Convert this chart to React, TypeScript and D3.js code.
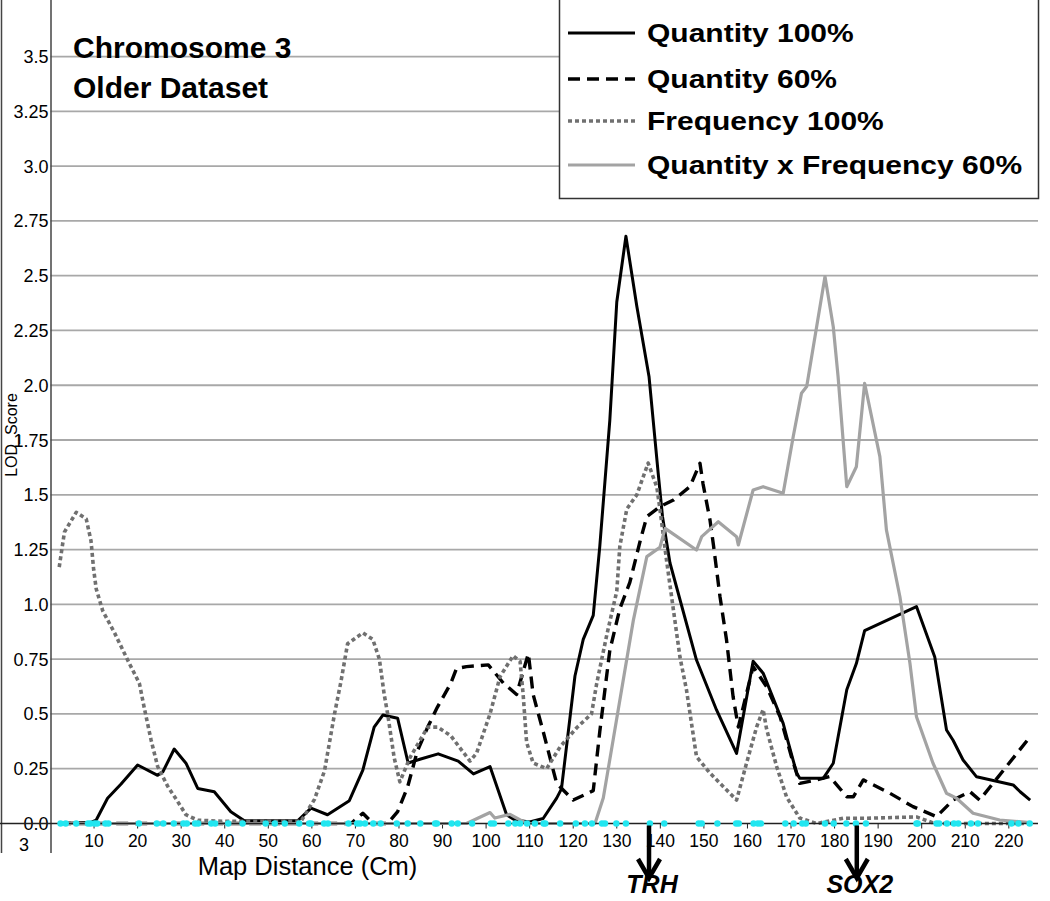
import React from "react";
import * as d3 from "d3";

// ---------- data ----------
const yTickValues = [0, 0.25, 0.5, 0.75, 1.0, 1.25, 1.5, 1.75, 2.0, 2.25, 2.5, 2.75, 3.0, 3.25, 3.5];
const yTickLabels = ["0.0", "0.25", "0.5", "0.75", "1.0", "1.25", "1.5", "1.75", "2.0", "2.25", "2.5", "2.75", "3.0", "3.25", "3.5"];
const xTickValues = [10, 20, 30, 40, 50, 60, 70, 80, 90, 100, 110, 120, 130, 140, 150, 160, 170, 180, 190, 200, 210, 220];

const quantity100: [number, number][] = [
  [2, 0], [9.3, 0.005], [10.5, 0.016], [13.1, 0.115], [16.2, 0.18], [20, 0.267], [24.6, 0.22], [25.8, 0.236],
  [28.4, 0.34], [31.1, 0.275], [33.8, 0.16], [37.6, 0.145], [41.4, 0.054], [44.5, 0.013], [56.8, 0.013],
  [59.8, 0.07], [63.6, 0.04], [68.6, 0.104], [71.7, 0.244], [74.3, 0.44], [76.3, 0.495], [79.7, 0.48],
  [82.1, 0.276], [84.8, 0.293], [89, 0.318], [93.6, 0.285], [97.1, 0.226], [100.9, 0.26], [104.7, 0.04],
  [106.6, 0.016], [110, 0.007], [113.1, 0.023], [116.2, 0.116], [117.3, 0.158], [120.4, 0.673], [122.3, 0.84],
  [124.6, 0.95], [126.1, 1.265], [128.4, 1.84], [130, 2.38], [132.1, 2.68], [134.6, 2.36], [137.4, 2.04],
  [139.5, 1.6], [140.5, 1.4], [142.2, 1.19], [148.3, 0.746], [152.9, 0.518], [157.5, 0.32], [161.3, 0.74],
  [163.6, 0.686], [168.2, 0.457], [169, 0.396], [171.3, 0.23], [172, 0.206], [177.4, 0.206], [179.7, 0.275],
  [182.8, 0.61], [185, 0.73], [186.9, 0.88], [198.8, 0.99], [203, 0.76], [205.7, 0.427], [207.2, 0.38],
  [209.5, 0.29], [212.6, 0.213], [221, 0.176], [222.6, 0.145], [224.9, 0.107],
];

const quantity60: [number, number][] = [
  [2, 0], [69, 0.0], [71.7, 0.047], [74, 0.0], [77.4, 0.0], [79.7, 0.054], [82, 0.168], [84.2, 0.33],
  [86.6, 0.44], [88.8, 0.53], [91.9, 0.64], [93.2, 0.707], [95.5, 0.716], [100.5, 0.724], [104, 0.64],
  [107, 0.589], [109.7, 0.775], [110.8, 0.589], [113.1, 0.42], [116.2, 0.183], [120, 0.107], [124.6, 0.15],
  [126.1, 0.42], [128.4, 0.79], [130.7, 0.98], [133, 1.1], [135.5, 1.3], [136.9, 1.4], [139.9, 1.446],
  [143, 1.476], [146.8, 1.537], [149.1, 1.644], [149.8, 1.55], [151.4, 1.385], [152.2, 1.27], [153.7, 1.035],
  [155.2, 0.837], [156.7, 0.579], [157.9, 0.44], [161.3, 0.716], [164.4, 0.624], [167.5, 0.487],
  [170.1, 0.305], [172, 0.183], [175.9, 0.199], [178.9, 0.214], [182.8, 0.122], [184.3, 0.122],
  [186.6, 0.199], [192.7, 0.138], [198, 0.077], [203.4, 0.031], [207.2, 0.107], [211.1, 0.145],
  [213.3, 0.107], [224.9, 0.396],
];

const frequency100: [number, number][] = [
  [2, 1.17], [3.2, 1.33], [5.9, 1.42], [8.2, 1.39], [9.3, 1.29], [9.9, 1.16], [10.5, 1.07], [12, 0.97],
  [14.7, 0.87], [18.1, 0.73], [20.4, 0.64], [21.5, 0.53], [23.1, 0.38], [24.6, 0.26], [26.9, 0.17],
  [29.2, 0.1], [31.1, 0.04], [33.8, 0.015], [40, 0.01], [57.5, 0.01], [60.6, 0.11], [62.9, 0.24],
  [65.2, 0.5], [66.7, 0.65], [68.2, 0.82], [71.7, 0.87], [74, 0.84], [75.5, 0.75], [76.6, 0.59],
  [77.4, 0.5], [78.9, 0.3], [80.2, 0.19], [82.5, 0.3], [86.6, 0.44], [88.9, 0.44], [91.9, 0.4],
  [96.3, 0.285], [97.8, 0.32], [100.9, 0.5], [103.2, 0.67], [106.2, 0.766], [107.8, 0.74], [108.5, 0.59],
  [109.3, 0.37], [110.8, 0.276], [113.9, 0.25], [117, 0.35], [120.8, 0.437], [124.2, 0.5], [125.4, 0.64],
  [127.7, 0.86], [130, 1.06], [130.7, 1.265], [132.3, 1.435], [134.6, 1.5], [137.2, 1.645], [139.2, 1.535],
  [139.9, 1.435], [141.5, 1.19], [144.5, 0.76], [146, 0.61], [148.3, 0.305], [151.4, 0.23], [157.5, 0.107],
  [159.8, 0.276], [162.1, 0.44], [163.6, 0.52], [164.4, 0.43], [166.7, 0.26], [169, 0.12], [172, 0.025],
  [175.9, 0], [182, 0.024], [187.4, 0.024], [198.8, 0.03], [203, 0], [224.9, 0],
];

const quantityXFrequency60: [number, number][] = [
  [2, 0], [95.5, 0], [100.9, 0.05], [102, 0.025], [105.5, 0.042], [109.3, 0], [125, 0], [126.9, 0.116],
  [129.2, 0.386], [133.8, 0.927], [136.9, 1.218], [139.9, 1.26], [141.1, 1.347], [148.3, 1.248],
  [149.5, 1.309], [153.3, 1.377], [157.5, 1.309], [157.9, 1.271], [161.3, 1.522], [163.6, 1.537],
  [168.2, 1.507], [170.5, 1.765], [172.4, 1.963], [173.6, 1.994], [177.8, 2.496], [179.7, 2.267],
  [180.8, 2.04], [182.8, 1.537], [185, 1.628], [186.9, 2.009], [190.4, 1.674], [191.9, 1.34], [195, 1.035],
  [197.3, 0.731], [198.8, 0.487], [202.6, 0.275], [205.7, 0.138], [208, 0.115], [211.8, 0.047],
  [217.9, 0.016], [224.9, 0.004],
];

const markerPositions = [
  2.3, 3.5, 5.9, 8.6, 9.2, 10.1, 10.7, 12.6, 13.3, 20.3, 24.4, 25.9, 28.3, 30.5, 31.3, 33.2, 33.9, 36.9,
  37.8, 40.8, 44.1, 49.4, 51.5, 53.8, 57.1, 59.4, 59.8, 62.8, 63.7, 68.4, 70.4, 71.1, 72.2, 74.1, 75.8,
  79.5, 82, 84.9, 88.3, 88.7, 92.1, 93.5, 96.8, 101.1, 101.8, 105.1, 106.7, 107.8, 109.4, 111.2, 113.2,
  113.6, 117, 120.6, 122.7, 124.3, 126.6, 127.3, 129.9, 132.1, 137.6, 140.9, 148.8, 149.5, 153.1, 157.4,
  158, 161.4, 162.4, 163.1, 168.7, 170.6, 172.6, 173.4, 177.8, 179.8, 182.7, 184.9, 187.2, 198.8, 199.1,
  203.4, 204, 205.8, 207.4, 208.4, 211.3, 212.9, 220.6, 222.2, 224.8,
];

const genes = [
  { name: "TRH", pos: 137.4 },
  { name: "SOX2", pos: 185.1 },
];

const seriesNames = ["Quantity 100%", "Quantity 60%", "Frequency 100%", "Quantity x Frequency 60%"];

// ---------- layout ----------
const W = 1050;
const H = 901;
const FONT = "Arial, 'Liberation Sans', Helvetica, sans-serif";

const x = d3.scaleLinear().domain([0, 226.7]).range([50.5, 1038]);
const y = d3.scaleLinear().domain([0, 3.758]).range([823.5, 0]);

const styles = [
  { stroke: "#000000", width: 3, dash: undefined as string | undefined },
  { stroke: "#000000", width: 3.4, dash: "12 7" },
  { stroke: "#707070", width: 3.6, dash: "4 3" },
  { stroke: "#a3a3a3", width: 3.2, dash: undefined as string | undefined },
];
const seriesData = [quantity100, quantity60, frequency100, quantityXFrequency60];

const lineGen = d3
  .line<[number, number]>()
  .x((d) => x(d[0]))
  .y((d) => y(d[1]));

export default function App() {
  const y0 = y(0);
  return (
    <svg
      width={W}
      height={H}
      viewBox={`0 0 ${W} ${H}`}
      style={{ position: "absolute", left: 0, top: 0, background: "#fff" }}
      fontFamily={FONT}
    >
      <rect x={0} y={0} width={W} height={H} fill="#fff" />
      {/* gridlines */}
      {yTickValues.filter((t) => t > 0).map((t) => (
        <line key={t} x1={x(0)} x2={1038} y1={y(t)} y2={y(t)} stroke="#a8a8a8" strokeWidth={1.8} />
      ))}
      {/* frame lines */}
      <line x1={1.5} x2={1.5} y1={0} y2={853} stroke="#444" strokeWidth={1.5} />
      <line x1={51} x2={51} y1={0} y2={853} stroke="#444" strokeWidth={1.5} />
      {/* y tick labels */}
      {yTickValues.map((t, i) => (
        <text key={t} x={48.5} y={y(t) + 6.5} textAnchor="end" fontSize={18} fill="#000">
          {yTickLabels[i]}
        </text>
      ))}
      {/* x ticks and labels */}
      {xTickValues.map((t) => (
        <g key={t}>
          <line x1={x(t)} x2={x(t)} y1={y0} y2={y0 + 5} stroke="#222" strokeWidth={1} />
          <text x={x(t)} y={846.5} textAnchor="middle" fontSize={17.5} fill="#000">
            {t}
          </text>
        </g>
      ))}
      <text x={24} y={851} textAnchor="middle" fontSize={18}>3</text>
      <text x={307.5} y={875} textAnchor="middle" fontSize={25.5}>Map Distance (Cm)</text>
      <text transform={`translate(17,435) rotate(-90)`} textAnchor="middle" fontSize={16}>LOD_Score</text>

      {/* series */}
      {seriesData.map((data, i) => (
        <path
          key={seriesNames[i]}
          d={lineGen(data) as string}
          fill="none"
          stroke={styles[i].stroke}
          strokeWidth={styles[i].width}
          strokeDasharray={styles[i].dash}
          strokeLinejoin="round"
        />
      ))}
      {/* x axis line */}
      <line x1={0} x2={1038} y1={y0} y2={y0} stroke="#222" strokeWidth={1.5} />
      {/* markers */}
      {markerPositions.map((m, i) => (
        <circle key={i} cx={x(m)} cy={y0} r={3.2} fill="#22e6f0" />
      ))}

      {/* title */}
      <text x={73} y={58} fontSize={30} fontWeight="bold">Chromosome 3</text>
      <text x={73} y={98} fontSize={30} fontWeight="bold">Older Dataset</text>

      {/* legend */}
      <rect x={559.5} y={-2} width={479} height={200.5} fill="#fff" stroke="#333" strokeWidth={1.5} />
      {seriesNames.map((name, i) => {
        const rowY = [33, 79, 121, 165][i];
        return (
          <g key={name}>
            <line x1={568} x2={635} y1={rowY} y2={rowY} stroke={styles[i].stroke} strokeWidth={styles[i].width}
              strokeDasharray={styles[i].dash} />
            <text transform={`translate(647,${rowY + 9}) scale(1.2,1)`} fontSize={25} fontWeight="bold">{name}</text>
          </g>
        );
      })}

      {/* genes */}
      {genes.map((g) => {
        const gx = x(g.pos);
        return (
          <g key={g.name}>
            <line x1={gx} x2={gx} y1={y0 + 2} y2={877} stroke="#000" strokeWidth={4.5} />
            <polyline points={`${gx - 11},${859} ${gx},${878} ${gx + 11},${859}`} fill="none" stroke="#000"
              strokeWidth={4.5} strokeLinejoin="miter" />
            <text x={gx + 3} y={893} textAnchor="middle" fontSize={25} fontWeight="bold" fontStyle="italic">{g.name}</text>
          </g>
        );
      })}
    </svg>
  );
}
